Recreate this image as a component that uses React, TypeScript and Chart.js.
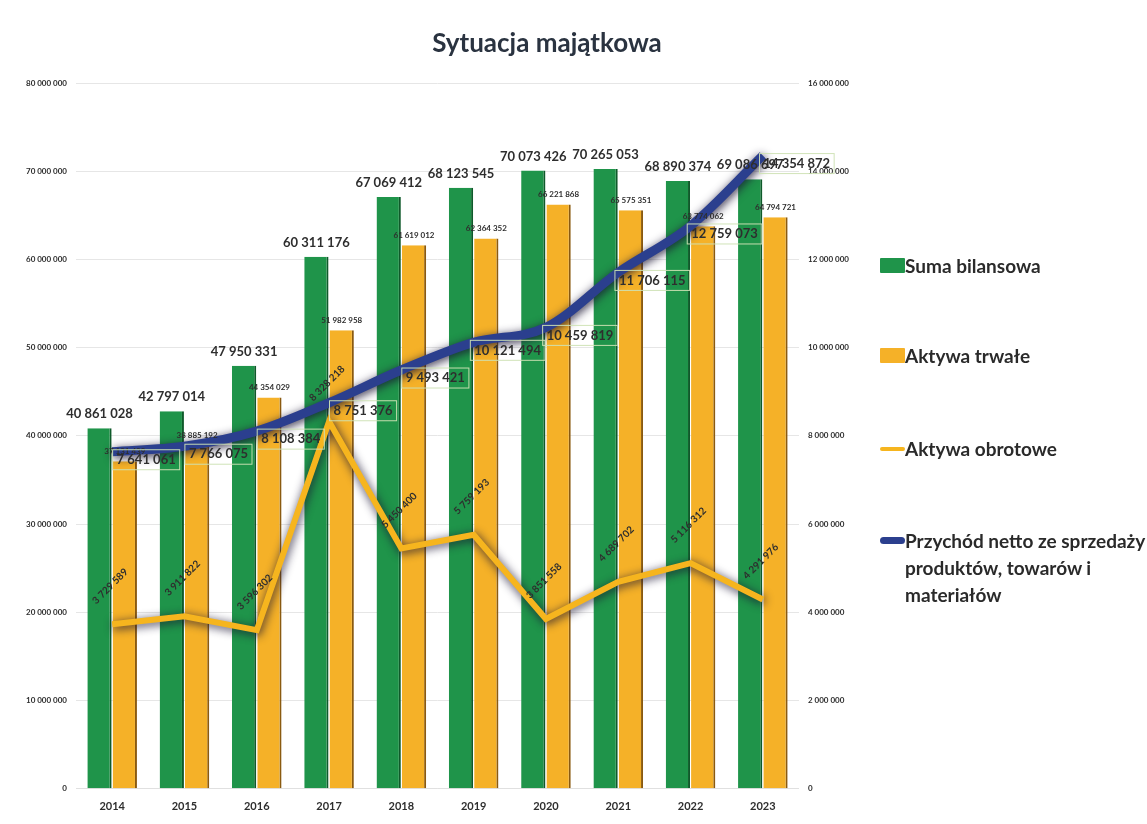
import React, { useEffect, useRef } from "react";
import { Chart, registerables } from "chart.js";

Chart.register(...registerables);

const years = ["2014", "2015", "2016", "2017", "2018", "2019", "2020", "2021", "2022", "2023"];
const sumaBilansowa = [40861028, 42797014, 47950331, 60311176, 67069412, 68123545, 70073426, 70265053, 68890374, 69086697];
const aktywaTrwale = [37131439, 38885192, 44354029, 51982958, 61619012, 62364352, 66221868, 65575351, 63774062, 64794721];
const aktywaObrotowe = [3729589, 3911822, 3596302, 8328218, 5450400, 5759193, 3851558, 4689702, 5116312, 4291976];
const przychodNetto = [7641061, 7766075, 8108384, 8751376, 9493421, 10121494, 10459819, 11706115, 12759073, 14354872];

const chartTitle = "Sytuacja majątkowa";
const seriesNames = [
  "Suma bilansowa",
  "Aktywa trwałe",
  "Aktywa obrotowe",
  "Przychód netto ze sprzedaży produktów, towarów i materiałów",
];

const GREEN = "#1f944a";
const ORANGE = "#f5b128";
const LINE_ORANGE = "#f6b51e";
const BLUE = "#2b3f8e";
const FONT = "Lato, 'Open Sans', sans-serif";

const fmt = (n: number) => Math.round(n).toString().replace(/\B(?=(\d{3})+(?!\d))/g, " ");

const shadowPlugin = {
  id: "lineShadow",
  beforeDatasetDraw(chart: any, args: any) {
    const ds = chart.data.datasets[args.index];
    if (ds.type === "line") {
      const ctx = chart.ctx;
      ctx.save();
      ctx.shadowColor = "rgba(25,20,50,0.9)";
      ctx.shadowBlur = 10;
      ctx.shadowOffsetX = 1;
      ctx.shadowOffsetY = 2;
    }
  },
  afterDatasetDraw(chart: any, args: any) {
    const ds = chart.data.datasets[args.index];
    if (ds.type === "line") chart.ctx.restore();
  },
};

const labelPlugin = {
  id: "valueLabels",
  afterDatasetsDraw(chart: any) {
    const ctx = chart.ctx;
    ctx.save();
    ctx.textAlign = "center";
    ctx.textBaseline = "middle";
    ctx.fillStyle = "#2e2e2e";
    chart.getDatasetMeta(0).data.forEach((el: any, i: number) => {
      ctx.font = `bold 13px ${FONT}`;
      ctx.fillText(fmt(sumaBilansowa[i]), el.x, el.y - 14);
    });
    chart.getDatasetMeta(1).data.forEach((el: any, i: number) => {
      ctx.font = `bold 8px ${FONT}`;
      ctx.fillText(fmt(aktywaTrwale[i]), el.x, el.y - 10);
    });
    chart.getDatasetMeta(2).data.forEach((el: any, i: number) => {
      ctx.save();
      ctx.translate(el.x - 2, el.y - 38);
      ctx.rotate(-Math.PI / 4);
      ctx.font = `bold 10px ${FONT}`;
      ctx.fillText(fmt(aktywaObrotowe[i]), 0, 0);
      ctx.restore();
    });
    chart.getDatasetMeta(3).data.forEach((el: any, i: number) => {
      const t = fmt(przychodNetto[i]);
      ctx.font = `bold 13px ${FONT}`;
      const w = ctx.measureText(t).width;
      const cx = el.x + 34;
      const cy = el.y + 8;
      ctx.strokeStyle = "rgba(205,225,180,0.95)";
      ctx.lineWidth = 1;
      ctx.strokeRect(cx - w / 2 - 4, cy - 10, w + 8, 20);
      ctx.fillText(t, cx, cy);
    });
    ctx.restore();
  },
};

function ChartCanvas() {
  const ref = useRef<HTMLCanvasElement>(null);
  useEffect(() => {
    document.body.style.margin = "0";
    const chart = new Chart(ref.current!, {
      type: "bar",
      data: {
        labels: years,
        datasets: [
          {
            type: "bar",
            label: seriesNames[0],
            data: sumaBilansowa,
            backgroundColor: GREEN,
            borderColor: "#0f5a2a",
            borderWidth: { right: 2, left: 0, top: 0, bottom: 0 },
            yAxisID: "y",
            order: 2,
            categoryPercentage: 0.7,
            barPercentage: 0.96,
          },
          {
            type: "bar",
            label: seriesNames[1],
            data: aktywaTrwale,
            backgroundColor: ORANGE,
            borderColor: "#8a5a10",
            borderWidth: { right: 2, left: 0, top: 0, bottom: 0 },
            yAxisID: "y",
            order: 2,
            categoryPercentage: 0.7,
            barPercentage: 0.96,
          },
          {
            type: "line",
            label: seriesNames[2],
            data: aktywaObrotowe,
            borderColor: LINE_ORANGE,
            borderWidth: 6,
            pointRadius: 0,
            tension: 0,
            yAxisID: "y1",
            order: 1,
          },
          {
            type: "line",
            label: seriesNames[3],
            data: przychodNetto,
            borderColor: BLUE,
            borderWidth: 9,
            pointRadius: 0,
            tension: 0.4,
            cubicInterpolationMode: "monotone",
            yAxisID: "y1",
            order: 0,
          },
        ] as any,
      },
      options: {
        animation: false,
        responsive: false,
        devicePixelRatio: 1,
        layout: { padding: { left: 17, right: 237, top: 83, bottom: 8 } },
        plugins: {
          legend: { display: false },
          tooltip: { enabled: false },
          title: { display: false },
        },
        scales: {
          x: {
            grid: { display: false },
            border: { display: true, color: "#e0e0e0" },
            ticks: {
              color: "#2e2e2e",
              font: { family: FONT, size: 11, weight: "bold" },
              padding: 3,
            },
          },
          y: {
            position: "left",
            min: 0,
            max: 80000000,
            ticks: {
              stepSize: 10000000,
              color: "#2e2e2e",
              font: { family: FONT, size: 8, weight: "bold" },
              padding: 9,
              callback: (v: any) => fmt(Number(v)),
            },
            grid: { color: "#e6e6e6", drawTicks: false },
            border: { display: false },
          },
          y1: {
            position: "right",
            min: 0,
            max: 16000000,
            ticks: {
              stepSize: 2000000,
              color: "#2e2e2e",
              font: { family: FONT, size: 8, weight: "bold" },
              padding: 9,
              callback: (v: any) => fmt(Number(v)),
            },
            grid: { display: false, drawTicks: false },
            border: { display: false },
          },
        },
      },
      plugins: [shadowPlugin, labelPlugin],
    });
    return () => chart.destroy();
  }, []);
  return (
    <canvas
      ref={ref}
      width={1095}
      height={824}
      style={{ position: "absolute", left: 0, top: 0, width: 1095, height: 824 }}
    />
  );
}

function LegendItem({ kind, color, text, center }: { kind: "box" | "line"; color: string; text: string; center: number }) {
  const isBlue = color === BLUE;
  return (
    <div style={{ position: "absolute", left: 880, top: center - 13.5, display: "flex", alignItems: "flex-start", width: 267 }}>
      <div
        style={{
          width: 25,
          height: kind === "box" ? 15 : isBlue ? 7 : 4,
          marginTop: kind === "box" ? 6 : isBlue ? 10 : 12,
          background: color,
          borderRadius: kind === "line" ? 4 : 1,
          flexShrink: 0,
        }}
      />
      <div
        style={{
          fontFamily: FONT,
          fontWeight: 700,
          fontSize: 19,
          lineHeight: "27px",
          color: "#2a2a2a",
          width: 242,
        }}
      >
        {text}
      </div>
    </div>
  );
}

export default function App() {
  return (
    <div style={{ position: "relative", width: 1147, height: 824, background: "#ffffff", overflow: "hidden" }}>
      <ChartCanvas />
      <div
        style={{
          position: "absolute",
          left: 347,
          width: 400,
          top: 26,
          textAlign: "center",
          fontFamily: FONT,
          fontWeight: 700,
          fontSize: 26,
          lineHeight: "32px",
          color: "#2a3340",
        }}
      >
        {chartTitle}
      </div>
      <LegendItem kind="box" color={GREEN} text={seriesNames[0]} center={265} />
      <LegendItem kind="box" color={ORANGE} text={seriesNames[1]} center={355} />
      <LegendItem kind="line" color={LINE_ORANGE} text={seriesNames[2]} center={448} />
      <LegendItem kind="line" color={BLUE} text={seriesNames[3]} center={540} />
    </div>
  );
}
